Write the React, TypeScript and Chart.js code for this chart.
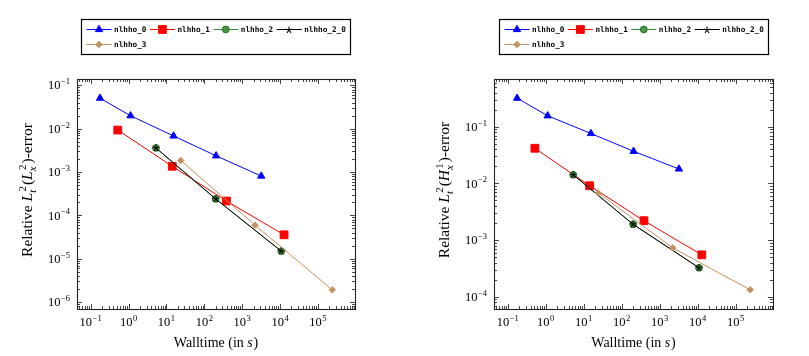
import React, { useEffect, useRef } from 'react';
import { Chart, registerables } from 'chart.js';

Chart.register(...registerables);

// ---------------- data ----------------
const SERIES = ['nlhho_0', 'nlhho_1', 'nlhho_2', 'nlhho_2_0', 'nlhho_3'];

// walltimes (s), shared by both panels
const TIME_0 = [0.177, 1.13, 15.5, 205, 3200];
const TIME_1 = [0.52, 14.3, 385, 12800];
const TIME_2 = [5.3, 200, 10800];
const TIME_3 = [24, 2200, 240000];

// left panel: relative L2_t(L2_x) error
const L2_ERR_0 = [0.0506, 0.0199, 0.0068, 0.00237, 0.00081];
const L2_ERR_1 = [0.0093, 0.00136, 2.15e-4, 3.57e-5];
const L2_ERR_2 = [0.0036, 2.4e-4, 1.5e-5];
const L2_ERR_20 = [0.0036, 2.4e-4, 1.5e-5];
const L2_ERR_3 = [0.00185, 5.95e-5, 1.92e-6];

// right panel: relative L2_t(H1_x) error
const H1_ERR_0 = [0.319, 0.156, 0.076, 0.0369, 0.018];
const H1_ERR_1 = [0.0417, 0.0091, 0.0022, 5.5e-4];
const H1_ERR_2 = [0.0142, 0.0019, 3.25e-4];
const H1_ERR_20 = [0.0142, 0.0019, 3.25e-4];
const H1_ERR_3 = [0.0068, 7.3e-4, 1.33e-4];

// axis limits
const X_MIN = Math.pow(10, -1.36);
const X_MAX = Math.pow(10, 5.98);
const L2_Y_MIN = Math.pow(10, -6.158);
const L2_Y_MAX = Math.pow(10, -0.854);
const H1_Y_MIN = Math.pow(10, -4.215);
const H1_Y_MAX = Math.pow(10, -0.158);

// ---------------- styling ----------------
const SERIF = '"Liberation Serif", "Times New Roman", serif';
const MONO = '"DejaVu Sans Mono", "Liberation Mono", monospace';
const TICK_SIZE = 12.5;
const EXP_SIZE = 8.5;
const XTITLE_SIZE = 14;
const YTITLE_SIZE = 15.5;

const COLORS = ['#0000ff', '#ff0000', 'rgb(60,140,60)', '#000000', 'rgb(195,145,95)'];

function makeStar(size: number, color: string) {
  const c = document.createElement('canvas');
  c.width = size;
  c.height = size;
  const g = c.getContext('2d')!;
  g.strokeStyle = color;
  g.lineWidth = 1.1;
  const cx = size / 2;
  const r = size / 2 - 0.5;
  g.beginPath();
  for (let i = 0; i < 5; i++) {
    const ang = -Math.PI / 2 + (i * 2 * Math.PI) / 5;
    g.moveTo(cx, cx);
    g.lineTo(cx + r * Math.cos(ang), cx + r * Math.sin(ang));
  }
  g.stroke();
  return c;
}

type Seg = { t: string; italic?: boolean; sup?: string; sub?: string };

function richWidth(ctx: CanvasRenderingContext2D, segs: Seg[], size: number) {
  let w = 0;
  const ss = size * 0.7;
  for (const s of segs) {
    ctx.font = `${s.italic ? 'italic ' : ''}${size}px ${SERIF}`;
    w += ctx.measureText(s.t).width + (s.italic ? 0.8 : 0);
    if (s.sup || s.sub) {
      ctx.font = `${ss}px ${SERIF}`;
      const a = s.sup ? ctx.measureText(s.sup).width : 0;
      ctx.font = `italic ${ss}px ${SERIF}`;
      const b = s.sub ? ctx.measureText(s.sub).width : 0;
      w += Math.max(a, b) + 1.5;
    }
  }
  return w;
}

function drawRich(ctx: CanvasRenderingContext2D, segs: Seg[], size: number, cx: number, cy: number, rotate: boolean) {
  ctx.save();
  ctx.translate(cx, cy);
  if (rotate) ctx.rotate(-Math.PI / 2);
  ctx.fillStyle = '#000';
  ctx.textAlign = 'left';
  ctx.textBaseline = 'alphabetic';
  const W = richWidth(ctx, segs, size);
  const ss = size * 0.7;
  let x = -W / 2;
  const base = size * 0.33;
  for (const s of segs) {
    ctx.font = `${s.italic ? 'italic ' : ''}${size}px ${SERIF}`;
    ctx.fillText(s.t, x, base);
    x += ctx.measureText(s.t).width + (s.italic ? 0.8 : 0);
    if (s.sup || s.sub) {
      let a = 0;
      let b = 0;
      if (s.sup) {
        ctx.font = `${ss}px ${SERIF}`;
        ctx.fillText(s.sup, x + 0.5, base - size * 0.42);
        a = ctx.measureText(s.sup).width;
      }
      if (s.sub) {
        ctx.font = `italic ${ss}px ${SERIF}`;
        ctx.fillText(s.sub, x - 0.8, base + size * 0.22);
        b = ctx.measureText(s.sub).width;
      }
      x += Math.max(a, b) + 1.5;
    }
  }
  ctx.restore();
}

function drawPow(ctx: CanvasRenderingContext2D, k: number, x: number, y: number, align: 'center' | 'right') {
  const base = '10';
  const exp = k < 0 ? '\u2212' + String(-k) : String(k);
  ctx.font = `${TICK_SIZE}px ${SERIF}`;
  const wb = ctx.measureText(base).width;
  ctx.font = `${EXP_SIZE}px ${SERIF}`;
  const we = ctx.measureText(exp).width;
  const total = wb + we + 0.5;
  const x0 = align === 'center' ? x - total / 2 : x - total;
  const bl = y + TICK_SIZE * 0.33;
  ctx.textAlign = 'left';
  ctx.textBaseline = 'alphabetic';
  ctx.fillStyle = '#000';
  ctx.font = `${TICK_SIZE}px ${SERIF}`;
  ctx.fillText(base, x0, bl);
  ctx.font = `${EXP_SIZE}px ${SERIF}`;
  ctx.fillText(exp, x0 + wb + 0.5, bl - TICK_SIZE * 0.42);
}

function drawMarker(ctx: CanvasRenderingContext2D, style: any, x: number, y: number, r: number, fill: string, stroke: string) {
  if (typeof style !== 'string') {
    ctx.drawImage(style, Math.round(x - style.width / 2), Math.round(y - style.height / 2));
    return;
  }
  ctx.beginPath();
  if (style === 'triangle') {
    for (let i = 0; i < 3; i++) {
      const a = (i * 2 * Math.PI) / 3;
      const px = x + Math.sin(a) * r;
      const py = y - Math.cos(a) * r;
      if (i === 0) ctx.moveTo(px, py);
      else ctx.lineTo(px, py);
    }
    ctx.closePath();
  } else if (style === 'rect') {
    const s = r * Math.SQRT1_2;
    ctx.rect(x - s, y - s, 2 * s, 2 * s);
  } else if (style === 'rectRot') {
    ctx.moveTo(x, y - r);
    ctx.lineTo(x + r, y);
    ctx.lineTo(x, y + r);
    ctx.lineTo(x - r, y);
    ctx.closePath();
  } else {
    ctx.arc(x, y, r, 0, Math.PI * 2);
  }
  ctx.fillStyle = fill;
  ctx.fill();
  ctx.strokeStyle = stroke;
  ctx.lineWidth = 1;
  ctx.stroke();
}

const pgfAxes = {
  id: 'pgfAxes',
  afterDraw(chart: any, _args: any, opts: any) {
    const ctx: CanvasRenderingContext2D = chart.ctx;
    const a = chart.chartArea;
    const xs = chart.scales.x;
    const ys = chart.scales.y;
    ctx.save();

    // ticks (inside, all four sides)
    ctx.strokeStyle = '#333';
    ctx.lineWidth = 0.9;
    const logTicks = (scale: any, cb: (p: number, major: boolean, k: number) => void) => {
      const k0 = Math.floor(Math.log10(scale.min));
      const k1 = Math.ceil(Math.log10(scale.max));
      for (let k = k0; k <= k1; k++) {
        for (let m = 1; m <= 9; m++) {
          const v = m * Math.pow(10, k);
          if (v < scale.min || v > scale.max) continue;
          cb(scale.getPixelForValue(v), m === 1, k);
        }
      }
    };
    ctx.beginPath();
    logTicks(xs, (p, major) => {
      const len = major ? 5 : 3;
      const px = Math.round(p) + 0.5;
      ctx.moveTo(px, a.bottom);
      ctx.lineTo(px, a.bottom - len);
      ctx.moveTo(px, a.top);
      ctx.lineTo(px, a.top + len);
    });
    logTicks(ys, (p, major) => {
      const len = major ? 5 : 3;
      const py = Math.round(p) + 0.5;
      ctx.moveTo(a.left, py);
      ctx.lineTo(a.left + len, py);
      ctx.moveTo(a.right, py);
      ctx.lineTo(a.right - len, py);
    });
    ctx.stroke();

    // frame
    ctx.strokeStyle = '#222';
    ctx.lineWidth = 1.1;
    ctx.strokeRect(Math.round(a.left) + 0.5, Math.round(a.top) + 0.5, Math.round(a.right - a.left), Math.round(a.bottom - a.top));

    // tick labels
    logTicks(xs, (p, major, k) => {
      if (major) drawPow(ctx, k, p, a.bottom + 13, 'center');
    });
    logTicks(ys, (p, major, k) => {
      if (major) drawPow(ctx, k, a.left - 7, p, 'right');
    });

    // axis titles
    drawRich(ctx, [{ t: 'Walltime (in ' }, { t: 's', italic: true }, { t: ')' }], XTITLE_SIZE, (a.left + a.right) / 2, a.bottom + 33, false);
    drawRich(ctx, opts.yTitle, YTITLE_SIZE, a.left - 50, (a.top + a.bottom) / 2 - 4, true);

    // legend
    const boxW = 270;
    const bx = Math.round((a.left + a.right) / 2 - boxW / 2) + 0.5;
    const by = 19.5;
    ctx.strokeStyle = '#000';
    ctx.lineWidth = 1.2;
    ctx.strokeRect(bx, by, boxW - 1, 35);
    const rows = [29.5, 44.5];
    let x = bx + 5;
    let row = 0;
    chart.data.datasets.forEach((ds: any, i: number) => {
      if (i === 4) {
        row = 1;
        x = bx + 5;
      }
      const y = rows[row];
      ctx.strokeStyle = ds.borderColor;
      ctx.lineWidth = 1;
      ctx.beginPath();
      ctx.moveTo(x, y);
      ctx.lineTo(x + 25, y);
      ctx.stroke();
      drawMarker(ctx, ds.pointStyle, x + 12.5, y, ds.pointRadius, ds.pointBackgroundColor, ds.pointBorderColor);
      ctx.font = `bold 7.7px ${MONO}`;
      ctx.fillStyle = '#000';
      ctx.textAlign = 'left';
      ctx.textBaseline = 'middle';
      ctx.fillText(ds.label, x + 27.5, y + 0.5);
      x += 27.5 + ctx.measureText(ds.label).width + 3.5;
    });

    ctx.restore();
  },
};

function series(xs: number[], ys: number[]) {
  return xs.map((x, i) => ({ x, y: ys[i] }));
}

function buildDatasets(errs: number[][], star: HTMLCanvasElement) {
  const times = [TIME_0, TIME_1, TIME_2, TIME_2, TIME_3];
  const styles: any[] = ['triangle', 'rect', 'circle', star, 'rectRot'];
  const radii = [4.2, 5.5, 3.4, 3, 3.2];
  const fills = ['#0000ff', '#ff0000', 'rgb(70,150,70)', '#000', 'rgb(195,145,95)'];
  const borders = ['#0000ff', '#ff0000', 'rgb(40,110,40)', '#000', 'rgb(195,145,95)'];
  return SERIES.map((label, i) => ({
    label,
    data: series(times[i], errs[i]),
    showLine: true,
    borderColor: COLORS[i],
    borderWidth: 1,
    pointStyle: styles[i],
    pointRadius: radii[i],
    pointBackgroundColor: fills[i],
    pointBorderColor: borders[i],
    pointBorderWidth: 1,
    order: 4 - i,
  }));
}

type PanelProps = {
  left: number;
  width: number;
  pad: { left: number; right: number; top: number; bottom: number };
  errs: number[][];
  yMin: number;
  yMax: number;
  yTitle: Seg[];
};

function Panel(props: PanelProps) {
  const ref = useRef<HTMLCanvasElement>(null);
  useEffect(() => {
    const star = makeStar(8, '#000');
    const chart = new Chart(ref.current as HTMLCanvasElement, {
      type: 'scatter',
      data: { datasets: buildDatasets(props.errs, star) as any },
      options: {
        animation: false,
        responsive: false,
        events: [],
        layout: { padding: props.pad },
        scales: {
          x: { type: 'logarithmic', min: X_MIN, max: X_MAX, bounds: 'data', display: false },
          y: { type: 'logarithmic', min: props.yMin, max: props.yMax, bounds: 'data', display: false },
        },
        plugins: {
          legend: { display: false },
          tooltip: { enabled: false },
          pgfAxes: { yTitle: props.yTitle },
        } as any,
      },
      plugins: [pgfAxes as any],
    });
    return () => chart.destroy();
  }, []);
  return (
    <canvas
      ref={ref}
      width={props.width}
      height={356}
      style={{ position: 'absolute', left: props.left, top: 0, width: props.width, height: 356 }}
    />
  );
}

const L2_TITLE: Seg[] = [
  { t: 'Relative ' },
  { t: 'L', italic: true, sub: 't', sup: '2' },
  { t: '(' },
  { t: 'L', italic: true, sub: 'x', sup: '2' },
  { t: ')-error' },
];
const H1_TITLE: Seg[] = [
  { t: 'Relative ' },
  { t: 'L', italic: true, sub: 't', sup: '2' },
  { t: '(' },
  { t: 'H', italic: true, sub: 'x', sup: '1' },
  { t: ')-error' },
];

export default function App() {
  return (
    <div style={{ position: 'fixed', left: 0, top: 0, width: 809, height: 356, background: '#fff' }}>
      <Panel
        left={0}
        width={404}
        pad={{ left: 77, right: 49, top: 79, bottom: 47 }}
        errs={[L2_ERR_0, L2_ERR_1, L2_ERR_2, L2_ERR_20, L2_ERR_3]}
        yMin={L2_Y_MIN}
        yMax={L2_Y_MAX}
        yTitle={L2_TITLE}
      />
      <Panel
        left={404}
        width={405}
        pad={{ left: 90, right: 36, top: 79, bottom: 47 }}
        errs={[H1_ERR_0, H1_ERR_1, H1_ERR_2, H1_ERR_20, H1_ERR_3]}
        yMin={H1_Y_MIN}
        yMax={H1_Y_MAX}
        yTitle={H1_TITLE}
      />
    </div>
  );
}
